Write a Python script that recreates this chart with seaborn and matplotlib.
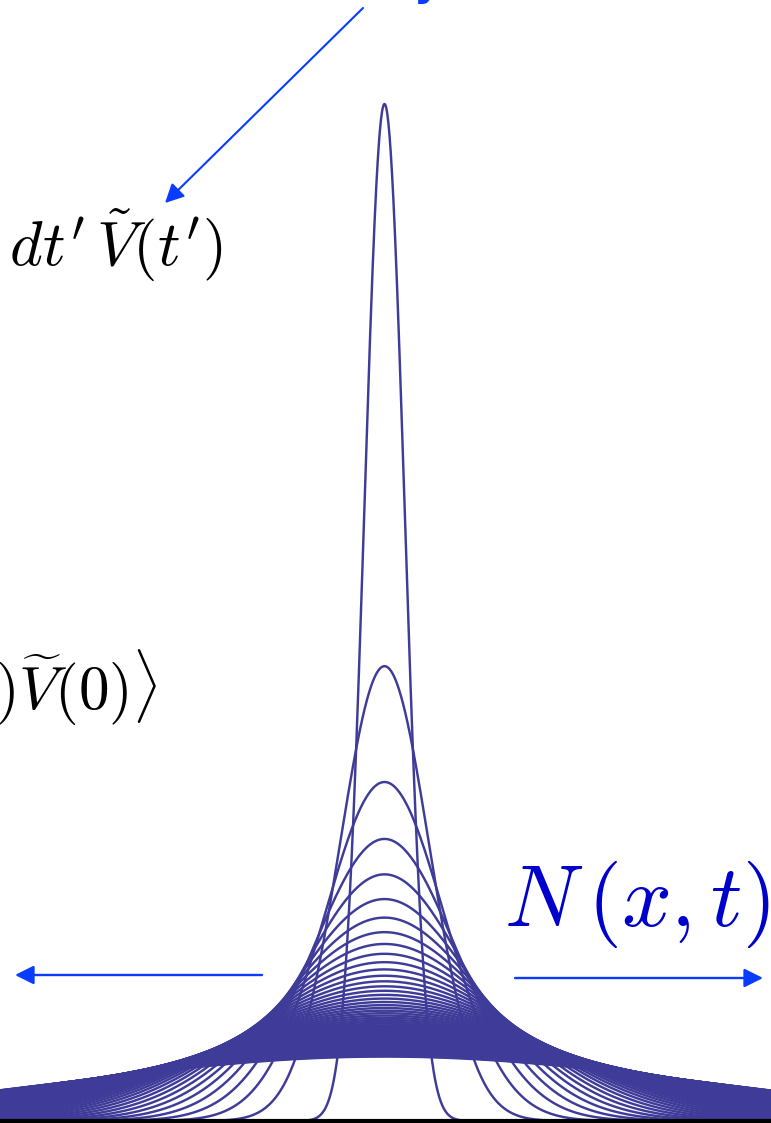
import numpy as np
import pandas as pd
import matplotlib
matplotlib.use("Agg")
import matplotlib.pyplot as plt
import seaborn as sns

sns.set_theme(style="white")
plt.rcParams["mathtext.fontset"] = "cm"

# Diffusion of a density profile N(x, t) = exp(-x^2 / 4Dt) / sqrt(4 pi D t)
D = 1.0
t_start = 0.25
t_step = 1.0
n_curves = 63
times = t_start + t_step * np.arange(n_curves)
x = np.linspace(-14.5, 14.5, 2401)

rows = []
for t in times:
    n = np.exp(-x**2 / (4 * D * t)) / np.sqrt(4 * np.pi * D * t)
    rows.append(pd.DataFrame({"x": x, "N": n, "t": t}))
df = pd.concat(rows, ignore_index=True)

W, H = 771, 1123
fig = plt.figure(figsize=(W / 100, H / 100), dpi=100)
ax = fig.add_axes([0, 2 / H, 1, (H - 2) / H])

curve_color = "#3f3c99"
sns.lineplot(data=df, x="x", y="N", units="t", estimator=None,
             color=curve_color, lw=1.75, sort=False, ax=ax, legend=False)

px_per_unit = 20 / np.sqrt(2 * D * t_start)
cx = 384.5
ax.set_xlim(-cx / px_per_unit, (W - cx) / px_per_unit)
peak = 1 / np.sqrt(4 * np.pi * D * t_start)
ax.set_ylim(0, peak * (H - 2) / (H - 104 - 2))

for s in ["top", "left", "right"]:
    ax.spines[s].set_visible(False)
ax.spines["bottom"].set_color("black")
ax.spines["bottom"].set_linewidth(3)
ax.set_xticks([])
ax.set_yticks([])
ax.set_xlabel("")
ax.set_ylabel("")


def fp(px, py):
    """Pixel position measured from the top-left corner -> figure fraction."""
    return px / W, 1 - py / H


arrow_blue = "#0a3cff"

# Equation labels
fig.text(*fp(222, 265), r"$D = \int\quad dt'\,\tilde{V}(t')$",
         fontsize=45, ha="right", va="baseline", color="black")
fig.text(*fp(157, 710), r"$\langle \widetilde{V}(t)\widetilde{V}(0)\rangle$",
         fontsize=44, ha="right", va="baseline", color="black")
fig.text(*fp(504, 926), r"$N\,(x,t)$", fontsize=63, ha="left",
         va="baseline", color="#0000cc")
fig.text(*fp(441, -5), "Diffusivity", fontsize=30, fontweight="bold",
         ha="right", va="baseline", color=arrow_blue)

# Arrows
def arrow(x0, y0, x1, y1, lw):
    ax.annotate("", xy=(x1, H - y1), xytext=(x0, H - y0),
                xycoords="figure pixels", textcoords="figure pixels",
                arrowprops=dict(arrowstyle="-|>,head_length=0.6,head_width=0.3",
                                mutation_scale=19, lw=lw, color=arrow_blue,
                                shrinkA=0, shrinkB=0))

arrow(262, 975, 15, 975, 1.7)
arrow(515, 978, 763, 978, 1.7)
arrow(363, 8, 165, 203, 1.5)

fig.savefig("out.png", dpi=100)
